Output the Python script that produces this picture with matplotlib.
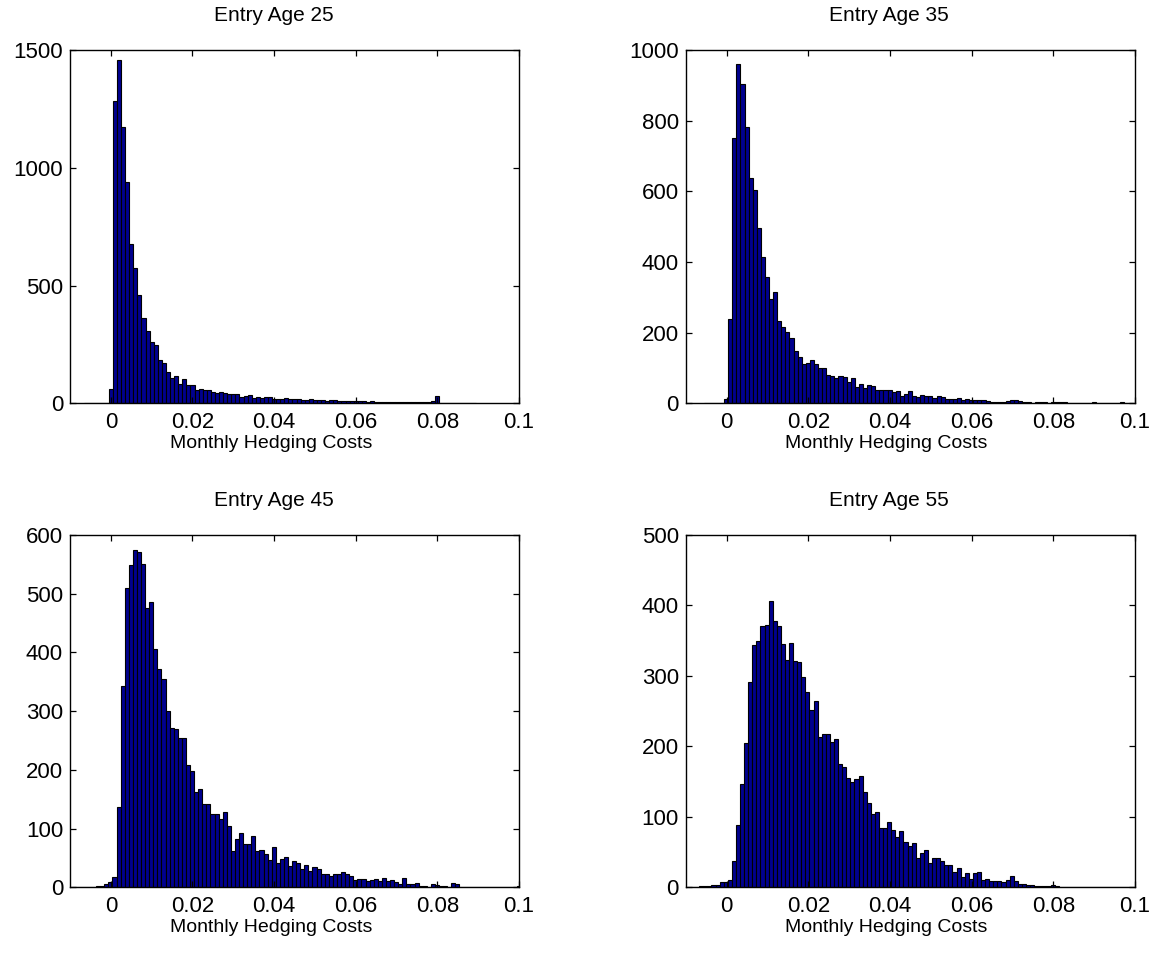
import numpy as np
import matplotlib
matplotlib.use("Agg")
import matplotlib.pyplot as plt

plt.rcParams['font.family'] = ['Liberation Sans', 'DejaVu Sans']

# bin width of the histograms and first left edge of every panel
bin_width = 0.001
titles = ["Entry Age 25", "Entry Age 35", "Entry Age 45", "Entry Age 55"]
starts = [-0.0065, -0.0056, -0.0096, -0.0097]

counts_25 = [1, 2, 3, 3, 3, 2,
             59, 1283, 1457, 1172, 941, 676, 573, 458, 364, 308,
             262, 246, 183, 170, 133, 109, 116, 82, 102, 78,
             76, 58, 61, 55, 57, 47, 45, 48, 44, 38,
             40, 40, 28, 30, 35, 24, 26, 22, 27, 25,
             17, 19, 20, 23, 18, 17, 20, 16, 15, 17,
             14, 12, 13, 11, 12, 13, 10, 9, 11, 8,
             9, 8, 9, 7, 8, 6, 6, 7, 5, 6,
             5, 7, 5, 4, 5, 4, 6, 5, 7, 8,
             30, 0, 1, 0, 0, 1, 0, 0, 0, 0]

counts_35 = [0, 1, 1, 1, 2, 11,
             238, 751, 960, 903, 781, 638, 605, 495, 415, 358,
             296, 316, 233, 217, 203, 184, 148, 132, 111, 115,
             122, 111, 101, 101, 80, 78, 73, 77, 75, 60,
             72, 47, 56, 42, 51, 48, 39, 38, 39, 38,
             31, 34, 21, 27, 35, 20, 18, 24, 20, 21,
             14, 22, 19, 13, 12, 12, 14, 9, 12, 10,
             8, 8, 8, 6, 5, 5, 3, 5, 6, 8,
             9, 7, 4, 4, 2, 4, 5, 3, 2, 4,
             3, 3, 3, 2, 2, 2, 2, 1, 2, 3,
             2, 2, 1, 2, 2, 2, 3, 2, 1]

counts_45 = [1, 1, 1, 1, 1, 1, 2, 3, 5, 9,
             17, 137, 342, 509, 548, 574, 571, 550, 476, 485,
             405, 372, 354, 300, 272, 270, 255, 255, 209, 198,
             162, 167, 142, 141, 124, 124, 116, 128, 104, 61,
             82, 93, 74, 74, 87, 62, 64, 56, 47, 69,
             41, 49, 51, 36, 44, 41, 31, 38, 28, 34,
             31, 22, 22, 19, 22, 22, 26, 23, 20, 12,
             14, 14, 11, 13, 14, 10, 15, 10, 13, 9,
             6, 15, 6, 5, 7, 3, 2, 1, 5, 4,
             2, 3, 1, 8, 6, 1, 0, 0, 1, 1,
             0, 0, 1, 1, 0, 0, 1, 0, 0, 2]

counts_55 = [0, 1, 1, 2, 2, 2, 3, 3, 7, 7,
             10, 37, 88, 146, 205, 291, 344, 349, 371, 372,
             406, 378, 371, 345, 322, 346, 321, 320, 298, 277,
             251, 265, 213, 218, 218, 206, 211, 175, 171, 155,
             149, 154, 158, 135, 119, 104, 107, 84, 84, 93,
             81, 72, 80, 64, 58, 63, 41, 49, 53, 35,
             42, 42, 37, 31, 31, 21, 28, 14, 20, 12,
             20, 21, 10, 12, 9, 9, 9, 8, 10, 16,
             9, 5, 4, 3, 3, 2, 2, 2, 2, 3,
             2, 1, 1, 0, 1, 1, 0, 1, 0, 1,
             0, 1, 1, 0, 1, 0, 0, 0, 0, 0]

all_counts = [counts_25, counts_35, counts_45, counts_55]
y_maxes = [1500, 1000, 600, 500]
y_steps = [500, 200, 100, 100]
x_ticks = [0, 0.02, 0.04, 0.06, 0.08, 0.1]
x_labels = ["0", "0.02", "0.04", "0.06", "0.08", "0.1"]

fig = plt.figure(figsize=(11.63, 9.55), dpi=100)
positions = [[0.0602, 0.5777, 0.3861, 0.370],
             [0.5896, 0.5777, 0.3864, 0.370],
             [0.0602, 0.0709, 0.3861, 0.369],
             [0.5896, 0.0709, 0.3864, 0.369]]

for pos, title, start, counts, ymax, ystep in zip(positions, titles, starts, all_counts, y_maxes, y_steps):
    ax = fig.add_axes(pos)
    counts = np.array(counts)
    edges = start + bin_width * np.arange(len(counts))
    ax.bar(edges, counts, width=bin_width, align='edge',
           color='#00008F', edgecolor='black', linewidth=0.8)
    ax.set_xlim(-0.01, 0.1)
    ax.set_ylim(0, ymax)
    ax.set_xticks(x_ticks)
    ax.set_xticklabels(x_labels)
    ax.set_yticks(np.arange(0, ymax + 1, ystep))
    ax.tick_params(direction='in', top=True, right=True, length=4,
                   width=0.9, labelsize=16)
    ax.tick_params(axis='x', pad=6)
    ax.tick_params(axis='y', pad=5)
    for sp in ax.spines.values():
        sp.set_linewidth(1.0)
    ax.set_title(title, fontsize=15, pad=21, x=0.453)
    ax.set_xlabel("Monthly Hedging Costs", fontsize=14, labelpad=2, x=0.447)

fig.savefig("out.png", dpi=100)
